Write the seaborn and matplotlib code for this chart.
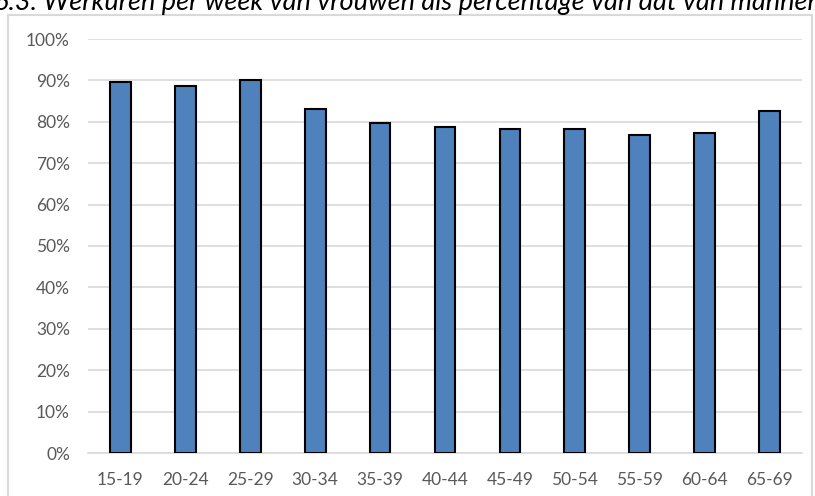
import matplotlib
matplotlib.use("Agg")
import matplotlib.pyplot as plt
import seaborn as sns
import pandas as pd
from matplotlib.patches import Rectangle
from matplotlib.ticker import FuncFormatter

categories = ["15-19", "20-24", "25-29", "30-34", "35-39", "40-44",
              "45-49", "50-54", "55-59", "60-64", "65-69"]
values = [0.896, 0.886, 0.901, 0.831, 0.797, 0.787, 0.783, 0.783, 0.768, 0.773, 0.826]
title = "6.3. Werkuren per week van vrouwen als percentage van dat van mannen"

sns.set_style("white")
plt.rcParams['font.family'] = ['Lato', 'DejaVu Sans']

df = pd.DataFrame({"cat": categories, "val": values})
fig = plt.figure(figsize=(8.15, 4.96), dpi=100)
ax = fig.add_axes([88/815, 1-453/496, (802-88)/815, (453-39)/496])

sns.barplot(data=df, x="cat", y="val", ax=ax, color="#4f81bd", saturation=1,
            width=0.32, edgecolor="black", linewidth=1.5, zorder=3)

ax.set_ylim(0, 1)
ax.set_yticks([i/10 for i in range(11)])
ax.yaxis.set_major_formatter(FuncFormatter(lambda v, p: f"{v*100:.0f}%"))
ax.grid(axis="y", color="#d9d9d9", linewidth=1.2, zorder=0)
ax.set_axisbelow(True)
for s in ["top", "right", "left"]:
    ax.spines[s].set_visible(False)
ax.spines["bottom"].set_color("#d9d9d9")
ax.spines["bottom"].set_linewidth(1.2)
ax.set_xlabel("")
ax.set_ylabel("")
ax.tick_params(axis="both", length=0, labelsize=12.5, colors="#595959")
ax.tick_params(axis="x", pad=14)
ax.tick_params(axis="y", pad=13)

# chart area border
fig.patches.append(Rectangle((8/815, -0.05), (812-8)/815, 1-15/496+0.05,
                             transform=fig.transFigure, fill=False,
                             edgecolor="#d9d9d9", linewidth=1.5))
fig.text(0.5, 1-10/496, title, ha="center", va="baseline", fontsize=19.5,
         style="italic", color="black")

fig.savefig("out.png", dpi=100)
